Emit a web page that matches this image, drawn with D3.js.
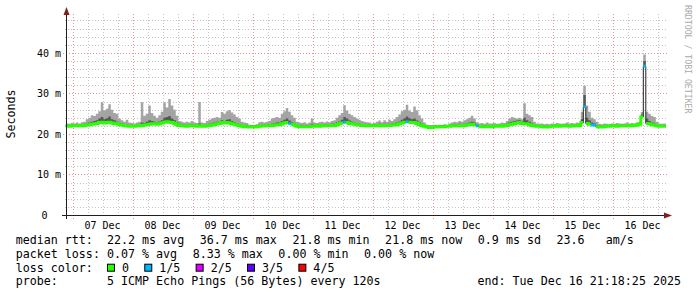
<!DOCTYPE html>
<html lang="en">
<head>
<meta charset="UTF-8">
<title>SmokePing - last 10 days</title>
<script src="https://cdn.jsdelivr.net/npm/d3@7"></script>
<style>
    body { margin: 0; background: #ffffff; }
    svg { display: block; font-family: "DejaVu Sans Mono", monospace; }
    text { white-space: pre; }
</style>
</head>
<body>
<svg id="chart" width="697" height="297"></svg>
<script>
// time span of the graph (one sample per hour)
const startTime = "2025-12-06T21:18:25Z";
const endTime = "2025-12-16T21:18:25Z";

const dayTicks = ["2025-12-07", "2025-12-08", "2025-12-09", "2025-12-10", "2025-12-11",
                  "2025-12-12", "2025-12-13", "2025-12-14", "2025-12-15", "2025-12-16"];

const yTickValues = [0, 10, 20, 30, 40];
const yTickLabels = ["0", "10 m", "20 m", "30 m", "40 m"];

// median rtt in ms, hourly
const median = [
    22.0, 21.9, 22.0, 22.0, 22.0, 22.1, 22.0, 22.1, 22.2, 22.3, 22.4, 22.5, 22.6, 22.8, 22.9, 22.7,
    22.8, 22.9, 22.7, 22.6, 22.5, 22.3, 22.2, 22.1, 22.0, 21.9, 21.9, 21.9, 22.0, 22.0, 22.1, 22.2,
    22.3, 22.4, 22.5, 22.5, 22.4, 22.5, 22.7, 22.9, 23.0, 22.9, 22.8, 22.6, 22.3, 22.1, 22.0, 22.0,
    21.9, 22.0, 22.0, 22.0, 21.9, 22.0, 21.9, 21.9, 22.0, 22.1, 22.2, 22.3, 22.5, 22.6, 22.8, 22.7,
    22.8, 22.7, 22.5, 22.4, 22.2, 22.1, 21.9, 21.8, 21.8, 21.7, 21.7, 21.7, 21.8, 21.9, 22.0, 22.0,
    22.0, 22.0, 22.1, 22.2, 22.3, 22.3, 22.5, 22.7, 22.8, 22.6, 22.4, 22.2, 21.9, 21.8, 21.8, 21.8,
    21.8, 21.8, 21.9, 21.9, 22.0, 21.9, 22.0, 22.0, 22.0, 22.0, 22.1, 22.1, 22.3, 22.5, 22.7, 22.9,
    22.8, 22.6, 22.5, 22.4, 22.3, 22.2, 22.1, 22.1, 22.0, 22.0, 22.0, 22.0, 22.0, 22.1, 22.0, 22.1,
    22.1, 22.1, 22.2, 22.2, 22.3, 22.5, 22.7, 22.9, 23.0, 22.9, 22.8, 22.8, 22.6, 22.3, 22.1, 21.9,
    21.7, 21.6, 21.6, 21.7, 21.7, 21.8, 21.8, 21.8, 21.9, 21.9, 22.0, 22.0, 22.0, 22.1, 22.0, 22.1,
    22.2, 22.3, 22.4, 22.3, 22.0, 21.9, 21.8, 21.8, 21.8, 21.9, 21.8, 21.9, 21.9, 22.0, 21.9, 22.0,
    22.1, 22.3, 22.4, 22.6, 22.7, 22.8, 22.6, 22.5, 22.5, 22.3, 22.1, 22.0, 21.9, 21.9, 21.8, 21.7,
    21.7, 21.8, 21.9, 21.9, 22.0, 21.9, 22.0, 22.0, 22.0, 21.9, 22.0, 22.0, 22.0, 22.1, 22.8, 26.7,
    22.6, 22.4, 22.2, 22.2, 21.8, 21.7, 21.7, 21.8, 21.9, 21.9, 22.0, 22.0, 21.9, 22.0, 22.0, 22.0,
    22.0, 22.1, 22.0, 22.1, 22.2, 22.4, 24.2, 36.7, 22.6, 22.5, 22.3, 22.2, 22.0, 21.9, 21.9, 21.9
];

// inner (dark) smoke top, ms
const smokeMid = [
    22.3, 22.2, 22.3, 22.3, 22.3, 22.4, 22.3, 22.4, 22.6, 22.8, 23.0, 23.2, 23.4, 23.8, 24.2, 23.6,
    23.9, 24.3, 23.6, 23.4, 23.0, 22.7, 22.6, 22.4, 22.4, 22.2, 22.2, 22.2, 22.3, 22.3, 22.8, 22.7,
    23.0, 23.4, 23.2, 23.0, 22.9, 23.1, 23.4, 24.0, 24.2, 24.4, 23.8, 23.4, 22.8, 22.5, 22.3, 22.3,
    22.2, 22.3, 22.3, 22.3, 22.2, 22.6, 22.2, 22.2, 22.3, 22.5, 22.6, 22.8, 23.0, 23.0, 23.4, 23.2,
    23.5, 23.6, 23.2, 22.9, 22.6, 22.4, 22.2, 22.1, 22.1, 22.0, 22.0, 22.0, 22.1, 22.3, 22.3, 22.3,
    22.3, 22.4, 22.5, 22.7, 22.8, 22.8, 23.2, 23.5, 23.8, 23.3, 22.9, 22.6, 22.2, 22.1, 22.1, 22.1,
    22.1, 22.1, 22.4, 22.2, 22.3, 22.2, 22.3, 22.3, 22.3, 22.3, 22.5, 22.5, 22.8, 23.1, 23.5, 24.2,
    23.8, 23.3, 23.0, 22.8, 22.7, 22.5, 22.4, 22.4, 22.3, 22.3, 22.3, 22.3, 22.3, 22.5, 22.3, 22.5,
    22.4, 22.5, 22.5, 22.6, 22.8, 23.1, 23.5, 23.9, 24.3, 23.9, 23.6, 23.8, 23.3, 22.8, 22.5, 22.2,
    22.0, 21.9, 21.9, 22.0, 22.0, 22.1, 22.1, 22.1, 22.2, 22.2, 22.3, 22.4, 22.3, 22.5, 22.3, 22.5,
    22.6, 22.8, 23.0, 22.8, 22.3, 22.2, 22.1, 22.1, 22.1, 22.2, 22.1, 22.2, 22.2, 22.3, 22.2, 22.3,
    22.5, 22.8, 23.0, 23.2, 23.3, 23.4, 23.1, 24.0, 23.4, 23.0, 22.6, 22.3, 22.2, 22.2, 22.1, 22.0,
    22.0, 22.1, 22.2, 22.2, 22.3, 22.2, 22.3, 22.3, 22.3, 22.2, 22.3, 22.3, 22.3, 22.4, 23.6, 29.6,
    24.0, 23.4, 22.8, 22.6, 22.1, 22.0, 22.0, 22.1, 22.2, 22.2, 22.3, 22.3, 22.2, 22.3, 22.3, 22.3,
    22.3, 22.4, 22.3, 22.4, 22.5, 22.8, 24.8, 38.0, 23.8, 23.2, 22.8, 22.6, 22.3, 22.2, 22.2, 22.2
];

// outer smoke top (slowest ping), ms
const smokeMax = [
    22.6, 22.5, 22.7, 22.6, 22.8, 22.6, 22.9, 23.0, 23.6, 24.0, 24.6, 24.4, 25.0, 25.6, 27.8, 25.8,
    26.2, 27.3, 26.0, 25.2, 25.0, 23.8, 23.4, 23.0, 23.5, 22.8, 22.7, 22.6, 22.8, 23.0, 27.8, 24.5,
    25.0, 27.0, 25.2, 24.5, 24.0, 24.6, 25.5, 27.8, 26.5, 28.6, 27.0, 26.0, 24.5, 23.2, 23.0, 22.8,
    23.0, 22.8, 23.2, 22.8, 22.7, 27.9, 22.8, 22.7, 23.2, 23.5, 23.8, 24.0, 24.2, 24.0, 25.4, 25.0,
    25.6, 25.9, 25.3, 24.8, 24.2, 23.8, 23.0, 22.8, 22.7, 22.3, 22.2, 22.3, 22.4, 22.9, 23.0, 22.8,
    23.0, 23.2, 23.8, 24.0, 24.2, 24.0, 25.0, 25.6, 26.4, 25.5, 24.6, 24.0, 23.0, 22.8, 22.7, 22.9,
    22.6, 22.8, 23.8, 22.8, 22.7, 22.9, 23.0, 22.8, 23.1, 22.9, 23.2, 23.4, 24.0, 24.6, 25.2, 27.1,
    25.8, 25.0, 24.6, 24.2, 23.8, 23.5, 23.2, 23.0, 22.9, 22.8, 22.6, 22.7, 23.0, 23.3, 22.9, 23.4,
    23.0, 23.5, 23.2, 23.6, 24.2, 24.8, 25.6, 26.0, 27.2, 25.8, 25.4, 26.8, 25.8, 24.6, 23.8, 22.8,
    22.3, 22.2, 22.2, 22.3, 22.2, 22.3, 22.2, 22.4, 22.3, 22.6, 22.8, 23.0, 22.9, 23.2, 23.0, 23.4,
    23.6, 24.0, 24.5, 23.8, 22.9, 22.6, 22.7, 22.5, 22.8, 22.6, 22.6, 22.7, 22.5, 22.6, 22.8, 22.7,
    23.2, 23.8, 24.2, 24.0, 23.8, 24.0, 23.6, 27.6, 25.0, 24.6, 24.2, 23.0, 22.6, 22.5, 22.6, 22.4,
    22.5, 22.4, 22.6, 22.5, 22.7, 22.6, 22.5, 22.6, 22.8, 22.6, 22.7, 22.6, 22.8, 22.7, 25.5, 31.9,
    27.0, 25.5, 24.0, 23.6, 23.0, 22.5, 22.4, 22.6, 22.5, 22.4, 22.6, 22.5, 22.7, 22.6, 22.5, 22.6,
    22.8, 22.6, 22.7, 22.6, 22.8, 22.9, 25.4, 39.6, 25.5, 25.0, 24.4, 24.2, 23.0, 22.6, 22.5, 22.6
];

// hours with lost pings (index into the hourly arrays) and how many of 5 were lost
const lossHours = [89, 111, 136, 164, 207, 210, 211, 231];
const lossCounts = [1, 1, 1, 1, 1, 1, 1, 1];

const lossLabels = ["0", "1/5", "2/5", "3/5", "4/5"];
const lossColors = ["#26ff00", "#00b8ff", "#dd00ff", "#5e00ff", "#ff0000"];

// legend rows: title + gprint items
const rttItems = ["22.2 ms avg", "36.7 ms max", "21.8 ms min", "21.8 ms now", "0.9 ms sd", "23.6   am/s"];
const lossItems = ["0.07 % avg", "8.33 % max", "0.00 % min", "0.00 % now"];
const probeText = "5 ICMP Echo Pings (56 Bytes) every 120s";
const endText = "end: Tue Dec 16 21:18:25 2025";

// ---------------------------------------------------------------
const svg = d3.select("#chart");
svg.append("rect").attr("width", 697).attr("height", 297).attr("fill", "#ffffff");

const t0 = new Date(startTime), t1 = new Date(endTime);
const x = d3.scaleUtc().domain([t0, t1]).range([65.8, 665.8]);
const y = d3.scaleLinear().domain([0, 49.6]).range([215, 14]);

const loss = median.map(() => 0);
lossHours.forEach((h, k) => loss[h] = lossCounts[k]);

const data = median.map((m, i) => ({
    t: d3.utcHour.offset(t0, i),
    med: m, mid: smokeMid[i], max: smokeMax[i], loss: loss[i]
}));
// extra point so the last step reaches the right edge
const stepData = data.concat([{...data[data.length - 1], t: t1}]);

// grid
const grid = svg.append("g");
const minorY = y.ticks(25).filter(v => v > 0 && v % 10 !== 0);
grid.selectAll(".hminor").data(minorY).enter().append("line")
    .attr("x1", 65).attr("x2", 668)
    .attr("y1", d => Math.round(y(d)) + 0.5).attr("y2", d => Math.round(y(d)) + 0.5)
    .attr("stroke", "#c4c4c4").attr("stroke-dasharray", "1,2");

const sixHours = d3.utcHour.every(6).range(t0, t1).filter(d => d.getUTCHours() !== 0);
grid.selectAll(".vminor").data(sixHours).enter().append("line")
    .attr("x1", d => Math.round(x(d)) + 0.5).attr("x2", d => Math.round(x(d)) + 0.5)
    .attr("y1", 14).attr("y2", 215)
    .attr("stroke", "#c4c4c4").attr("stroke-dasharray", "1,2");

grid.selectAll(".hmajor").data(yTickValues.slice(1)).enter().append("line")
    .attr("x1", 63).attr("x2", 668)
    .attr("y1", d => Math.round(y(d)) + 0.5).attr("y2", d => Math.round(y(d)) + 0.5)
    .attr("stroke", "#e88f8f").attr("stroke-dasharray", "1,2");

const midnights = d3.utcDay.range(t0, t1);
grid.selectAll(".vmajor").data(midnights).enter().append("line")
    .attr("x1", d => Math.round(x(d)) + 0.5).attr("x2", d => Math.round(x(d)) + 0.5)
    .attr("y1", 14).attr("y2", 219)
    .attr("stroke", "#e88f8f").attr("stroke-dasharray", "1,2");

// smoke
const outer = d3.area().curve(d3.curveStepAfter)
    .x(d => x(d.t)).y0(d => y(d.med)).y1(d => y(d.max));
const inner = d3.area().curve(d3.curveStepAfter)
    .x(d => x(d.t)).y0(d => y(d.med)).y1(d => y(d.mid));
svg.append("path").datum(stepData).attr("d", outer).attr("fill", "#a4a4a4");
svg.append("path").datum(stepData).attr("d", inner).attr("fill", "#585858");

// thin dark median, then coloured by loss
const medLine = d3.line().curve(d3.curveStepAfter).x(d => x(d.t)).y(d => y(d.med));
svg.append("path").datum(stepData).attr("d", medLine)
    .attr("fill", "none").attr("stroke", "#202020").attr("stroke-width", 1);

const runs = [];
data.forEach(d => {
    const last = runs[runs.length - 1];
    if (last && last.loss === d.loss) last.pts.push(d);
    else runs.push({loss: d.loss, pts: [d]});
});
runs.forEach(r => {
    const end = r.pts[r.pts.length - 1];
    const next = d3.utcHour.offset(end.t, 1);
    const pts = r.pts.concat([{...end, t: next > t1 ? t1 : next}]);
    svg.append("path").datum(pts).attr("d", medLine)
        .attr("fill", "none").attr("stroke", lossColors[r.loss]).attr("stroke-width", 3);
});

// axes
const axisCol = "#202020", arrowCol = "#801f1f";
svg.append("line").attr("x1", 62).attr("x2", 669).attr("y1", 215.5).attr("y2", 215.5)
    .attr("stroke", axisCol);
svg.append("line").attr("x1", 66.5).attr("x2", 66.5).attr("y1", 219).attr("y2", 12)
    .attr("stroke", axisCol);
svg.append("path").attr("d", "M664,212.5 L672,215.5 L664,218.5 Z").attr("fill", arrowCol);
svg.append("path").attr("d", "M63.5,15 L66.5,7 L69.5,15 Z").attr("fill", arrowCol);

// y labels
svg.selectAll(".ylab").data(yTickValues).enter().append("text")
    .attr("x", (d, i) => i === 0 ? 44.5 : 61)
    .attr("y", d => y(d) + 3.6)
    .attr("text-anchor", (d, i) => i === 0 ? "middle" : "end")
    .attr("font-size", "10px").attr("fill", "#000")
    .text((d, i) => yTickLabels[i]);

// x labels at noon
const dayFmt = d3.utcFormat("%d %b");
svg.selectAll(".xlab").data(dayTicks).enter().append("text")
    .attr("x", d => x(d3.utcHour.offset(new Date(d + "T00:00:00Z"), 12)))
    .attr("y", 228.5)
    .attr("text-anchor", "middle").attr("font-size", "10px").attr("fill", "#000")
    .text(d => dayFmt(new Date(d + "T00:00:00Z")));

// titles
svg.append("text").attr("transform", "translate(14.5,114) rotate(-90)")
    .attr("text-anchor", "middle").attr("font-size", "11.66px").text("Seconds");
svg.append("text").attr("transform", "translate(685,5) rotate(90)")
    .attr("font-size", "8.2px").attr("fill", "#aaaaaa").text("RRDTOOL / TOBI OETIKER");

// legend (rrdtool puts a fixed pixel gap between gprint items)
const fs = "11.66px", lx = 15.7, lineH = 13.7, ly = 244.3, cw = 7.02, gap = 15.5;
const col2 = lx + 13 * cw;

function legendRow(title, items, row) {
    const yy = ly + row * lineH;
    svg.append("text").attr("x", lx).attr("y", yy).attr("font-size", fs).text(title);
    let px = col2;
    items.forEach(s => {
        svg.append("text").attr("x", px).attr("y", yy).attr("font-size", fs).text(s);
        px += s.length * cw + gap;
    });
}
legendRow("median rtt:", rttItems, 0);
legendRow("packet loss:", lossItems, 1);

const rowY = ly + 2 * lineH;
svg.append("text").attr("x", lx).attr("y", rowY).attr("font-size", fs).text("loss color:");
let bx = col2;
lossLabels.forEach((lab, i) => {
    svg.append("rect").attr("x", bx + 0.5).attr("y", rowY - 7.5).attr("width", 7).attr("height", 7)
        .attr("fill", lossColors[i]).attr("stroke", "#000");
    svg.append("text").attr("x", bx + 15).attr("y", rowY).attr("font-size", fs).text(lab);
    bx += 15 + lab.length * cw + 15.3;
});

legendRow("probe:", [probeText], 3);
svg.append("text").attr("x", 681).attr("y", ly + 3 * lineH).attr("text-anchor", "end")
    .attr("font-size", fs).text(endText);
</script>
</body>
</html>
